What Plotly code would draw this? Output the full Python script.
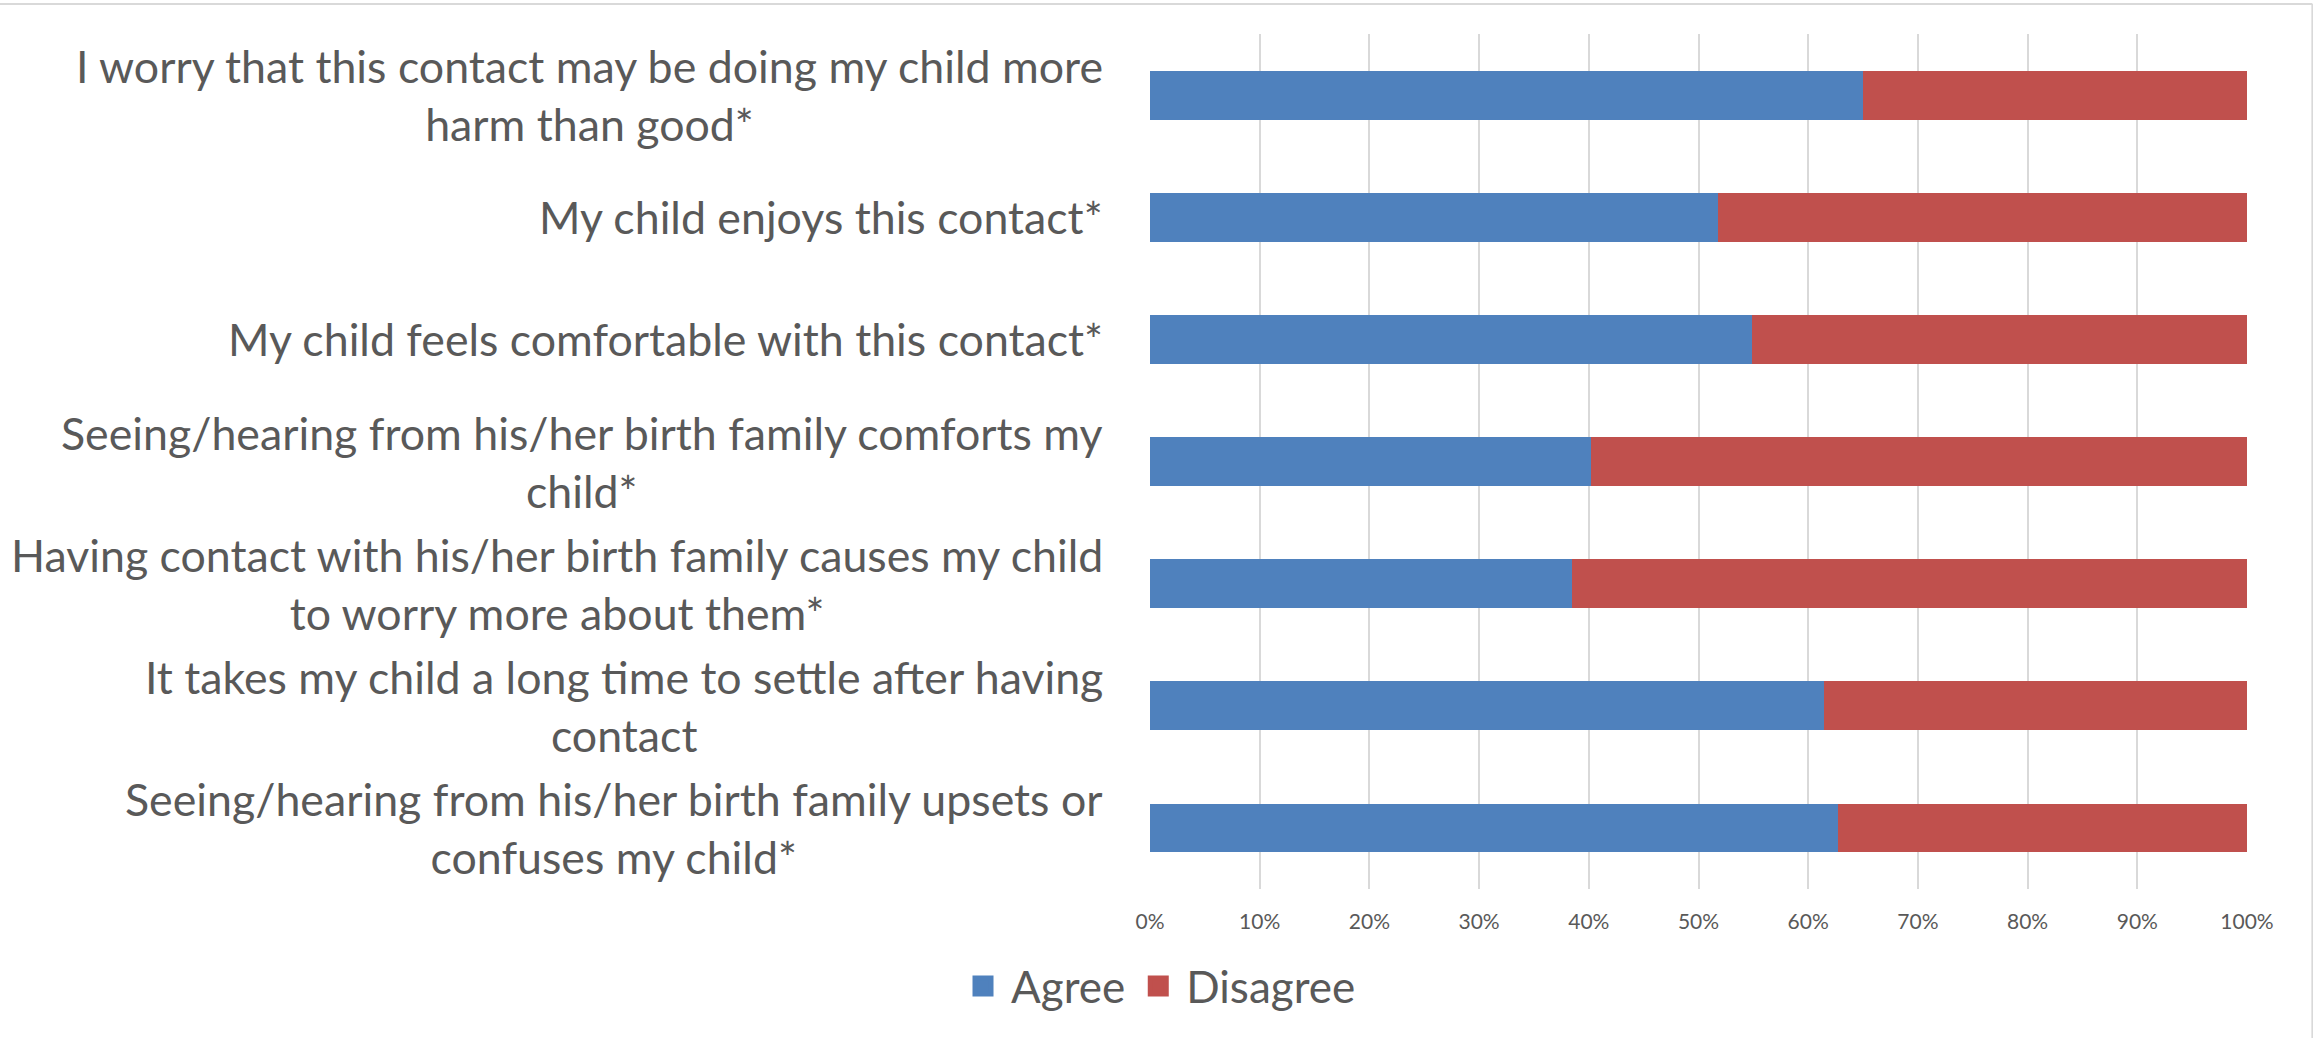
import plotly.graph_objects as go

# Survey statements (top to bottom), wrapped the way they are printed
statements = [
    "I worry that this contact may be doing my child more<br>harm than good*",
    "My child enjoys this contact*",
    "My child feels comfortable with this contact*",
    "Seeing/hearing from his/her birth family comforts my<br>child*",
    "Having contact with his/her birth family causes my child<br>to worry more about them*",
    "It takes my child a long time to settle after having<br>contact",
    "Seeing/hearing from his/her birth family upsets or<br>confuses my child*",
]

# Share of respondents (%)
agree = [65.0, 51.8, 54.9, 40.2, 38.5, 61.4, 62.7]
disagree = [35.0, 48.2, 45.1, 59.8, 61.5, 38.6, 37.3]

series_names = ["Agree", "Disagree"]
series_colors = ["#4F81BD", "#C0504D"]

x_tickvals = [0, 10, 20, 30, 40, 50, 60, 70, 80, 90, 100]
x_ticktext = ["0%", "10%", "20%", "30%", "40%", "50%",
              "60%", "70%", "80%", "90%", "100%"]

TEXT = "#595959"
GRID = "#D9D9D9"
FONT = "Lato"

fig = go.Figure()

for name, vals, color in zip(series_names, [agree, disagree], series_colors):
    fig.add_trace(go.Bar(
        y=statements, x=vals, name=name, orientation="h",
        marker=dict(color=color, line=dict(width=0)),
        showlegend=False,
    ))
    # legend swatch
    fig.add_trace(go.Scatter(
        x=[None], y=[None], mode="markers", name=name,
        marker=dict(symbol="square", size=16, color=color,
                    line=dict(color=color, width=5)),
        showlegend=True,
    ))

# category labels: centred lines, block right-aligned next to the axis
for s in statements:
    fig.add_annotation(
        x=-0.041, xref="paper", y=s, yref="y",
        text=s, showarrow=False, xanchor="right", yanchor="middle",
        align="center", font=dict(family=FONT, size=44.7, color=TEXT),
    )

# thin chart-area frame (top and right edges)
fig.add_shape(type="line", xref="paper", yref="paper",
              x0=-1.06, x1=1.0596, y0=1.035, y1=1.035,
              line=dict(color=GRID, width=2))
fig.add_shape(type="line", xref="paper", yref="paper",
              x0=1.0596, x1=1.0596, y0=1.035, y1=-0.2,
              line=dict(color=GRID, width=2))

fig.update_layout(
    width=2313, height=1038,
    margin=dict(l=1150, r=66, t=34, b=149),
    paper_bgcolor="white", plot_bgcolor="white",
    barmode="stack", bargap=0.6,
    font=dict(family=FONT, color=TEXT),
    showlegend=True,
    legend=dict(
        orientation="h", traceorder="normal",
        x=0.0073, xanchor="center",
        y=-0.114, yanchor="middle",
        font=dict(family=FONT, size=44, color=TEXT),
        itemwidth=46,
        bgcolor="rgba(0,0,0,0)",
    ),
    xaxis=dict(
        range=[0, 100], tickmode="array",
        tickvals=x_tickvals, ticktext=x_ticktext,
        showgrid=True, gridcolor=GRID, gridwidth=2,
        zeroline=False, showline=False, ticks="",
        tickfont=dict(family=FONT, size=21, color=TEXT),
        ticklabelstandoff=18, fixedrange=True,
    ),
    yaxis=dict(
        autorange="reversed", showticklabels=False, showgrid=False,
        zeroline=False, showline=False, ticks="", fixedrange=True,
    ),
)

fig.write_html("out.html")
